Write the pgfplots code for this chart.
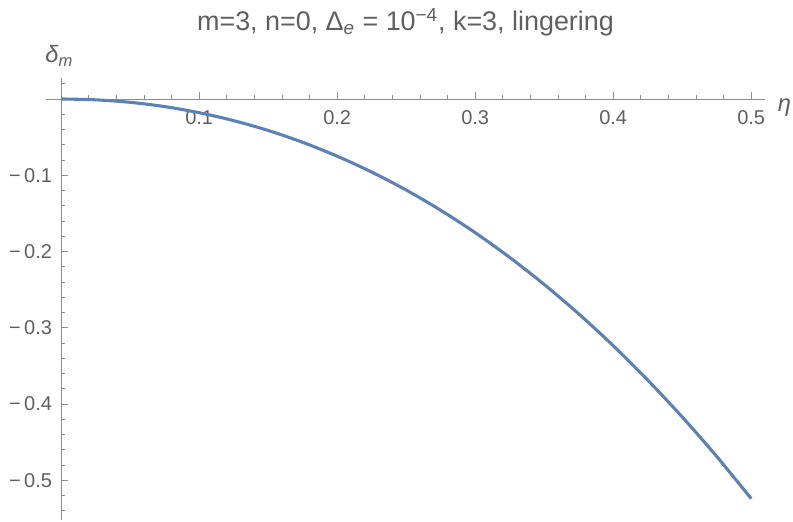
\documentclass[border=0pt]{standalone}
\usepackage{fontspec}
\setmainfont{Liberation Sans}
\usepackage{pgfplots}
\pgfplotsset{compat=1.18}
\definecolor{mblue}{RGB}{94,129,181}
\definecolor{axgray}{RGB}{140,140,140}
\definecolor{txgray}{RGB}{95,95,95}
\begin{document}
\begin{tikzpicture}
\begin{axis}[
  scale only axis,
  width=395.45pt, height=243.1pt,
  at={(0,0)}, anchor=south west,
  axis lines=middle,
  axis line style={axgray,-},
  enlargelimits=false,
  xmin=-0.011, xmax=0.51,
  ymin=-0.552, ymax=0.0275,
  xtick={0.1,0.2,0.3,0.4,0.5},
  xticklabels={0.1,0.2,0.3,0.4,0.5},
  ytick={-0.5,-0.4,-0.3,-0.2,-0.1},
  yticklabels={−\,0.5,−\,0.4,−\,0.3,−\,0.2,−\,0.1},
  minor xtick={0.02,0.04,0.06,0.08,0.12,0.14,0.16,0.18,0.22,0.24,0.26,0.28,0.32,0.34,0.36,0.38,0.42,0.44,0.46,0.48},
  minor ytick={-0.54,-0.52,-0.48,-0.46,-0.44,-0.42,-0.38,-0.36,-0.34,-0.32,-0.28,-0.26,-0.24,-0.22,-0.18,-0.16,-0.14,-0.12,-0.08,-0.06,-0.04,-0.02,0.02},
  tick align=inside,
  major tick length=3.8pt,
  minor tick length=2.2pt,
  tick style={axgray, line width=0.5pt},
  every tick label/.style={font=\fontsize{11}{13}\selectfont, text=txgray},
  xticklabel style={yshift=-3pt},
  yticklabel style={xshift=-1.5pt},
  xlabel={\textit{η}},
  ylabel={\textit{δ}\textsubscript{\textit{m}}},
  xlabel style={at={(axis cs:0.51,0)}, anchor=west, xshift=3.5pt, yshift=-5pt, font=\fontsize{13}{15}\selectfont, text=txgray},
  ylabel style={at={(axis cs:0,0.0275)}, anchor=south, yshift=3pt, xshift=-1pt, font=\fontsize{13}{15}\selectfont, text=txgray},
  title={m=3, n=0, Δ\textsubscript{\textit{e}} = 10\textsuperscript{−4}, k=3, lingering},
  title style={at={(0.5,1)}, anchor=base, yshift=20pt, font=\fontsize{14.8}{17}\selectfont, text=txgray},
]
\addplot[mblue, line width=1.7pt, smooth] coordinates {
(0,0) (0.025,-0.0011) (0.05,-0.0044) (0.075,-0.0100) (0.1,-0.0180)
(0.125,-0.0284) (0.15,-0.0413) (0.175,-0.0568) (0.2,-0.0750)
(0.225,-0.0958) (0.25,-0.1194) (0.275,-0.1459) (0.3,-0.1753)
(0.325,-0.2077) (0.35,-0.2432) (0.375,-0.2817) (0.4,-0.3235)
(0.425,-0.3686) (0.45,-0.4169) (0.475,-0.4687) (0.5,-0.5240)
};
\end{axis}
\pgfresetboundingbox
\useasboundingbox (-25.3pt,-0.55pt) rectangle (410.85pt,286pt);
\end{tikzpicture}
\end{document}
